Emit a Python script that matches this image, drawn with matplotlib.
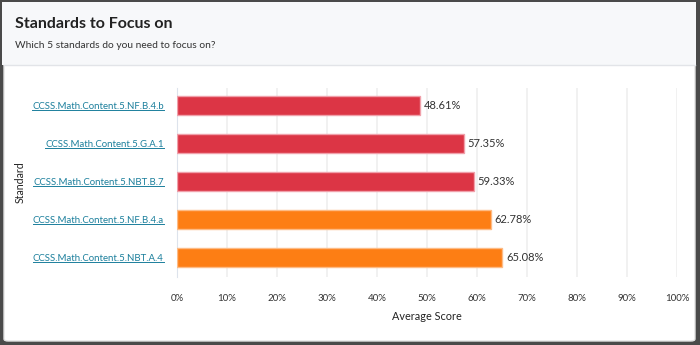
import matplotlib.pyplot as plt
from matplotlib.patches import FancyBboxPatch, Rectangle
from matplotlib.lines import Line2D

plt.rcParams['font.family'] = ['Lato', 'DejaVu Sans']

standards = ['CCSS.Math.Content.5.NF.B.4.b', 'CCSS.Math.Content.5.G.A.1',
             'CCSS.Math.Content.5.NBT.B.7', 'CCSS.Math.Content.5.NF.B.4.a',
             'CCSS.Math.Content.5.NBT.A.4']
scores = [48.61, 57.35, 59.33, 62.78, 65.08]
bar_colors = ['#dc3545', '#dc3545', '#dc3545', '#fd7e14', '#fd7e14']
edge_colors = ['#f0a0aa', '#f0a0aa', '#f0a0aa', '#fdbb85', '#fdbb85']
x_ticks = list(range(0, 101, 10))

W, H = 700, 345
fig = plt.figure(figsize=(7, 3.45), dpi=100)
fig.patch.set_facecolor('#4a4a4a')

def fx(px):
    return px / W

def fy(py):
    return 1 - py / H

# card background and header
card = FancyBboxPatch((fx(4), fy(341)), fx(691), (338 / H), boxstyle='round,pad=0,rounding_size=0.006',
                      transform=fig.transFigure, facecolor='white', edgecolor='#e3e3e3', lw=1, zorder=0)
fig.patches.append(card)
fig.patches.append(Rectangle((fx(2), fy(65)), fx(694), 63 / H, transform=fig.transFigure,
                             facecolor='#f7f8fa', edgecolor='none', zorder=0.5))
fig.patches.append(Rectangle((fx(1), fy(344)), fx(697), 343 / H, transform=fig.transFigure,
                             facecolor='none', edgecolor='#4a4a4a', lw=2, zorder=0.4))
fig.lines.append(Line2D([fx(4), fx(695)], [fy(65), fy(65)], transform=fig.transFigure,
                        color='#e2e4e8', lw=1))

fig.text(fx(15), fy(24), 'Standards to Focus on', fontsize=11.5, fontweight='bold',
         color='#222222', va='center', ha='left')
fig.text(fx(15), fy(46), 'Which 5 standards do you need to focus on?', fontsize=7.4,
         color='#333333', va='center', ha='left')
fig.text(fx(20), fy(182), 'Standard', fontsize=7.6, color='#222222', rotation=90,
         va='center', ha='center')

ax = fig.add_axes([fx(177), fy(277), fx(500), (277 - 88) / H])
ax.set_zorder(3)
ax.set_facecolor('none')
ypos = list(range(len(standards)))
ax.barh(ypos, scores, height=0.5, color=bar_colors, edgecolor=edge_colors, linewidth=1, zorder=3)
for y, v in zip(ypos, scores):
    ax.text(v + 0.7, y, f'{v:.2f}%', va='center', ha='left', fontsize=8, color='#333333')

ax.set_xlim(0, 100)
ax.set_ylim(4.5, -0.47)
ax.set_xticks(x_ticks)
ax.set_xticklabels([f'{t}%' for t in x_ticks], fontsize=7, color='#333333')
ax.set_yticks(ypos)
ax.set_yticklabels(standards, fontsize=6.9, color='#1b7f9c')
ax.tick_params(axis='both', length=0)
ax.tick_params(axis='x', pad=12)
ax.tick_params(axis='y', pad=9.5)
ax.grid(axis='x', color='#efefef', lw=1.2, zorder=0)
for s in ['top', 'right', 'bottom']:
    ax.spines[s].set_visible(False)
ax.spines['left'].set_color('#dde3ec')
ax.set_xlabel('Average Score', fontsize=7.8, color='#222222', labelpad=6)

# underline the standard links
fig.canvas.draw()
renderer = fig.canvas.get_renderer()
inv = fig.transFigure.inverted()
for lbl in ax.get_yticklabels():
    bb = lbl.get_window_extent(renderer)
    (x0, y0), (x1, y1) = inv.transform([(bb.x0, bb.y0), (bb.x1, bb.y1)])
    yline = y0 + (y1 - y0) * 0.12
    fig.lines.append(Line2D([x0, x1], [yline, yline], transform=fig.transFigure,
                            color='#1b7f9c', lw=0.7, zorder=4))

fig.savefig('out.png', dpi=100, facecolor=fig.get_facecolor())
